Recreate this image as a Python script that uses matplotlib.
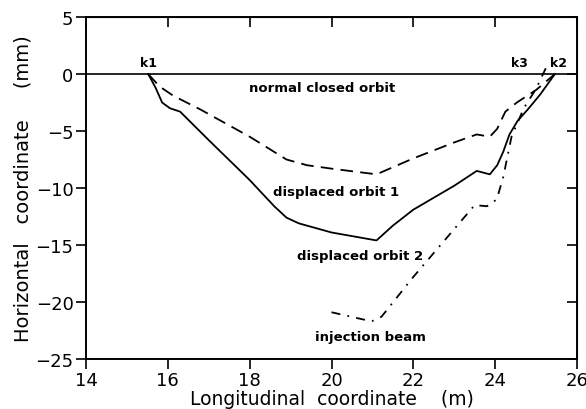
import matplotlib
matplotlib.use("Agg")
import matplotlib.pyplot as plt

# displaced orbit 2 (solid)
orb2_x = [15.52, 15.7, 15.86, 16.05, 16.3, 17.0, 18.0, 18.6, 18.9, 19.2, 20.0, 21.1, 21.5, 22.0, 23.0, 23.55, 23.87, 24.05, 24.2, 24.35, 24.55, 24.8, 25.1, 25.46]
orb2_y = [0.0, -1.2, -2.5, -3.0, -3.3, -5.8, -9.3, -11.6, -12.6, -13.1, -13.9, -14.6, -13.3, -11.9, -9.8, -8.5, -8.8, -8.0, -6.8, -5.3, -4.1, -3.1, -1.8, 0.0]

# displaced orbit 1 (dashed)
orb1_x = [15.52, 15.8, 16.13, 16.79, 18.0, 18.9, 19.4, 20.0, 21.1, 22.0, 23.0, 23.55, 23.87, 24.05, 24.25, 24.53, 25.0, 25.46]
orb1_y = [0.0, -1.1, -1.9, -3.1, -5.5, -7.5, -8.0, -8.3, -8.8, -7.4, -6.0, -5.3, -5.5, -4.8, -3.3, -2.5, -1.4, 0.0]

# injection beam (dash-dot)
inj_x = [20.0, 20.98, 21.22, 22.0, 23.0, 23.5, 23.8, 24.04, 24.2, 24.4, 24.7, 25.0, 25.25]
inj_y = [-20.9, -21.7, -21.3, -17.8, -13.6, -11.5, -11.6, -11.0, -9.0, -5.5, -3.0, -1.3, 0.6]

kicker_labels = ["k1", "k3", "k2"]
kicker_x = [15.52, 24.6, 25.55]

curve_labels = ["normal closed orbit", "displaced orbit 1", "displaced orbit 2", "injection beam"]
curve_label_x = [19.77, 20.11, 20.7, 20.96]
curve_label_y = [-1.15, -10.3, -15.95, -23.0]

xticks = [14, 16, 18, 20, 22, 24, 26]
yticks = [5, 0, -5, -10, -15, -20, -25]

plt.rcParams['font.family'] = ['DejaVu Sans']
fig = plt.figure(figsize=(5.86, 4.10), dpi=100)
ax = fig.add_axes([0.1468, 0.122, 0.8378, 0.834])

ax.axhline(0, color="black", lw=1.2)
ax.plot(orb2_x, orb2_y, color="black", lw=1.3, ls="-")
ax.plot(orb1_x, orb1_y, color="black", lw=1.3, ls=(0, (7, 4)))
ax.plot(inj_x, inj_y, color="black", lw=1.3, ls=(0, (5, 4, 1, 4)))

for lab, x in zip(kicker_labels, kicker_x):
    ax.text(x, 0.45, lab, ha="center", va="bottom", fontsize=9, fontweight="bold")
for lab, x, y in zip(curve_labels, curve_label_x, curve_label_y):
    ax.text(x, y, lab, ha="center", va="center", fontsize=9.5, fontweight="semibold")

ax.set_xlim(14, 26)
ax.set_ylim(-25, 5)
ax.set_xticks(xticks)
ax.set_yticks(yticks)
ax.set_yticklabels(["5", "0", "\u22125", "\u221210", "\u221215", "\u221220", "\u221225"])
ax.tick_params(axis="both", direction="out", length=7, width=1.2, labelsize=13, pad=2)
for s in ax.spines.values():
    s.set_linewidth(1.4)

sx = ax.secondary_xaxis("top")
sx.set_xticks(xticks)
sx.tick_params(direction="in", length=7, width=1.2, labeltop=False)
sy = ax.secondary_yaxis("right")
sy.set_yticks(yticks)
sy.tick_params(direction="in", length=7, width=1.2, labelright=False)

ax.set_xlabel("Longitudinal  coordinate    (m)", fontsize=13.5, labelpad=0)
ax.set_ylabel("Horizontal   coordinate     (mm)", fontsize=14, labelpad=2)

fig.savefig("out.png", dpi=100)
